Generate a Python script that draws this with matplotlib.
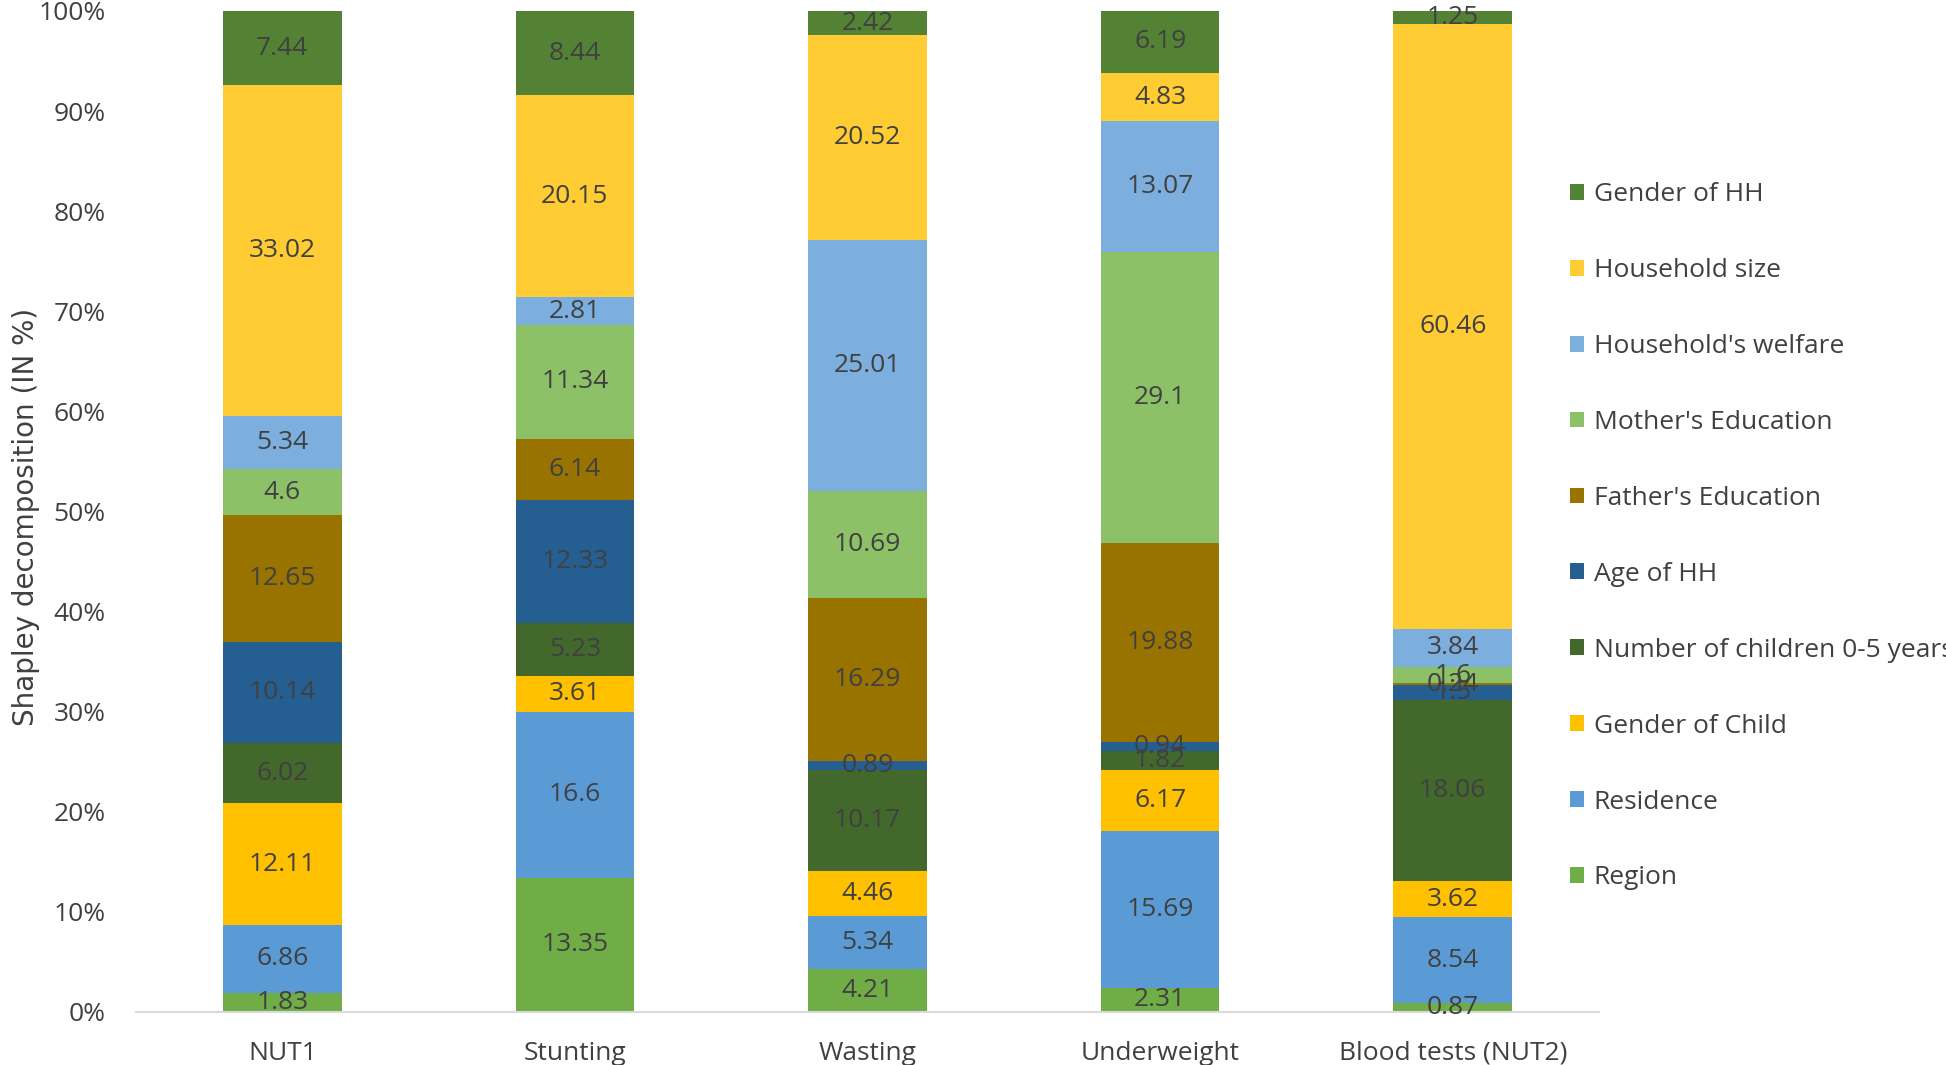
import numpy as np
import matplotlib.pyplot as plt
from matplotlib.ticker import FuncFormatter

# data (bottom of stack first)
categories = ["NUT1", "Stunting", "Wasting", "Underweight", "Blood tests (NUT2)"]
factors = ["Region", "Residence", "Gender of Child", "Number of children 0-5 years",
           "Age of HH", "Father's Education", "Mother's Education",
           "Household's welfare", "Household size", "Gender of HH"]

region = [1.83, 13.35, 4.21, 2.31, 0.87]
residence = [6.86, 16.6, 5.34, 15.69, 8.54]
gender_child = [12.11, 3.61, 4.46, 6.17, 3.62]
n_children = [6.02, 5.23, 10.17, 1.82, 18.06]
age_hh = [10.14, 12.33, 0.89, 0.94, 1.5]
father_edu = [12.65, 6.14, 16.29, 19.88, 0.24]
mother_edu = [4.6, 11.34, 10.69, 29.1, 1.6]
welfare = [5.34, 2.81, 25.01, 13.07, 3.84]
hh_size = [33.02, 20.15, 20.52, 4.83, 60.46]
gender_hh = [7.44, 8.44, 2.42, 6.19, 1.25]

series = [region, residence, gender_child, n_children, age_hh,
          father_edu, mother_edu, welfare, hh_size, gender_hh]
colors = ["#70AD47", "#5B9BD5", "#FFC000", "#43682B", "#255E91",
          "#997300", "#8CC168", "#7CAFDD", "#FFCD33", "#548235"]

txt = "#404040"
fs = 19
plt.rcParams['font.family'] = ['Open Sans', 'DejaVu Sans']

fig = plt.figure(figsize=(19.46, 10.65), dpi=100)
ax = fig.add_axes([0.0699, 0.0502, 0.7518, 0.9395])

x = np.arange(len(categories))
bottom = np.zeros(len(categories))
handles = []
for name, vals, col in zip(factors, series, colors):
    vals = np.array(vals)
    b = ax.bar(x, vals, 0.405, bottom=bottom, color=col, label=name, linewidth=0)
    handles.append(b)
    # value labels in the middle of each segment
    for xi, v, b0 in zip(x, vals, bottom):
        ax.text(xi, b0 + v / 2, f"{v:g}", ha="center", va="center",
                fontsize=fs, color=txt)
    bottom += vals

ax.set_xlim(-0.5, 4.5)
ax.set_ylim(0, 100)
ax.set_xticks(x)
ax.set_xticklabels(categories, fontsize=fs, color=txt)
ax.set_yticks(np.arange(0, 101, 10))
ax.yaxis.set_major_formatter(FuncFormatter(lambda v, p: f"{int(v)}%"))
ax.tick_params(axis="y", length=0, labelsize=fs, labelcolor=txt, pad=22)
ax.tick_params(axis="x", length=0, pad=21)
for s in ["top", "right", "left"]:
    ax.spines[s].set_visible(False)
ax.spines["bottom"].set_color("#D9D9D9")
ax.spines["bottom"].set_linewidth(1.5)

fig.text(0.006, 0.515, "Shapley decomposition (IN %)", rotation=90,
         ha="left", va="center", fontsize=20, color=txt,
         family=['Liberation Sans Narrow', 'DejaVu Sans'])

leg = ax.legend(handles[::-1], factors[::-1], loc="upper left",
                bbox_to_anchor=(0.98, 0.829), frameon=False, fontsize=fs,
                labelspacing=1.93, handlelength=0.55, handleheight=0.55,
                handletextpad=0.35, borderaxespad=0.0, borderpad=0.0)
for t in leg.get_texts():
    t.set_color(txt)

fig.savefig("out.png", dpi=100)
